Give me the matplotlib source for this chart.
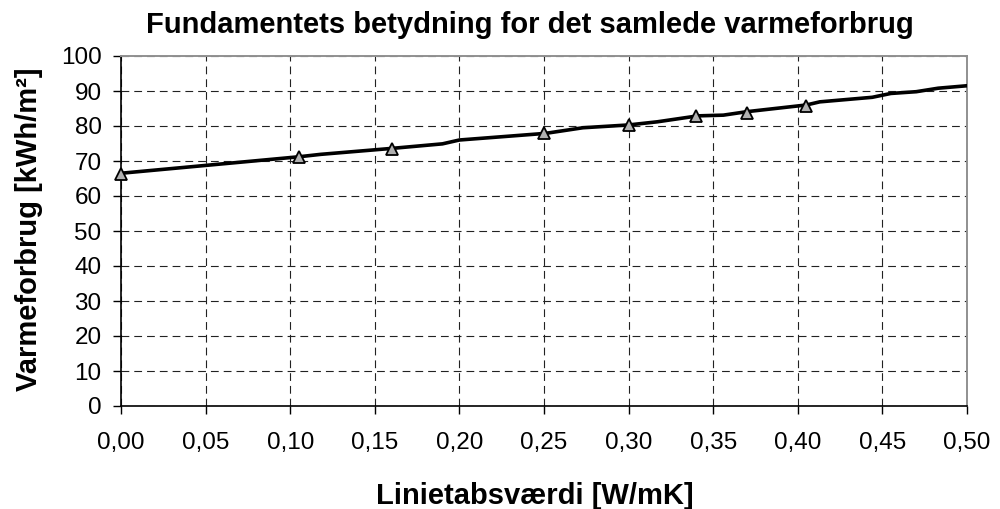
import matplotlib.pyplot as plt
from matplotlib.ticker import FuncFormatter, MultipleLocator

plt.rcParams['font.family'] = ['Liberation Sans', 'DejaVu Sans']

# curve (vertices)
line_x = [0.0, 0.105, 0.118, 0.16, 0.19, 0.20, 0.251, 0.273, 0.30, 0.317,
          0.341, 0.356, 0.37, 0.405, 0.413, 0.444, 0.455, 0.47, 0.483, 0.50]
line_y = [66.5, 71.2, 71.9, 73.6, 74.9, 76.0, 77.9, 79.5, 80.3, 81.2,
          82.9, 83.1, 84.1, 86.0, 86.9, 88.2, 89.3, 89.8, 90.8, 91.5]

# measured points (triangles)
pts_x = [0.0, 0.105, 0.16, 0.25, 0.30, 0.34, 0.37, 0.405]
pts_y = [66.3, 71.2, 73.5, 78.0, 80.4, 82.8, 83.8, 85.6]

title = "Fundamentets betydning for det samlede varmeforbrug"
xlabel = "Linietabsværdi [W/mK]"
ylabel = "Varmeforbrug [kWh/m²]"

W, H = 1000, 509
fig = plt.figure(figsize=(W / 100, H / 100), dpi=100)
ax = fig.add_axes([121 / W, 1 - 406 / H, 846 / W, 350 / H])

ax.plot(line_x, line_y, color="black", lw=2.6, zorder=3, solid_joinstyle="round")
ax.plot(pts_x, pts_y, ls="none", marker="^", ms=8.5, mfc="#b0b0b0", mec="black",
        mew=1.3, zorder=4, clip_on=False)

ax.set_xlim(0, 0.5)
ax.set_ylim(0, 100)
ax.xaxis.set_major_locator(MultipleLocator(0.05))
ax.yaxis.set_major_locator(MultipleLocator(10))
ax.xaxis.set_major_formatter(FuncFormatter(lambda v, p: f"{v:.2f}".replace(".", ",")))

ax.grid(True, color="#222222", ls=(0, (7, 4.5)), lw=0.8)
ax.set_axisbelow(True)

for side in ["top", "right"]:
    ax.spines[side].set_color("#909090")
    ax.spines[side].set_linewidth(1.4)
for side in ["left", "bottom"]:
    ax.spines[side].set_color("black")
    ax.spines[side].set_linewidth(1.2)

ax.tick_params(axis="both", direction="out", length=6, width=1, labelsize=17.5)
ax.tick_params(axis="y", pad=8)
ax.tick_params(axis="x", pad=13)

fig.text(529.5 / W, 1 - 33 / H, title, fontsize=21, fontweight="bold",
         ha="center", va="baseline")
fig.text(535 / W, 5 / H, xlabel, fontsize=21, fontweight="bold",
         ha="center", va="baseline")
fig.text(29 / W, 1 - 229 / H, ylabel, fontsize=21, fontweight="bold",
         ha="center", va="center", rotation=90)

fig.savefig("out.png", dpi=100)
